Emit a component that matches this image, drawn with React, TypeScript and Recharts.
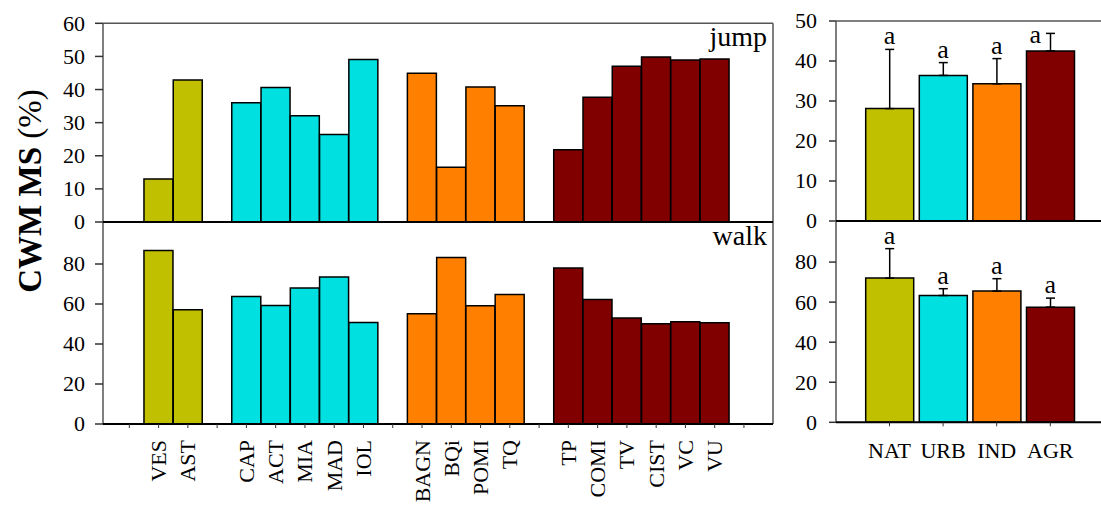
import React from 'react';
import { BarChart, ComposedChart, Bar, Line, XAxis, YAxis, Cell, ErrorBar, Label, LabelList, ReferenceLine, CartesianGrid } from 'recharts';

const FONT = '"Liberation Serif", "Times New Roman", Times, serif';
const COLORS: Record<string, string> = { NAT: '#C0C000', URB: '#00E0E0', IND: '#FF8000', AGR: '#800000' };

// Site-level CWM MS (%) by land-use group
const natSites = ['VES', 'AST'];
const natJump = [13.0, 42.9];
const natWalk = [86.7, 57.1];
const urbSites = ['CAP', 'ACT', 'MIA', 'MAD', 'IOL'];
const urbJump = [36.0, 40.6, 32.1, 26.4, 49.1];
const urbWalk = [63.8, 59.3, 68.0, 73.5, 50.8];
const indSites = ['BAGN', 'BQi', 'POMI', 'TQ'];
const indJump = [44.9, 16.5, 40.8, 35.1];
const indWalk = [55.1, 83.3, 59.1, 64.8];
const agrSites = ['TP', 'COMI', 'TV', 'CIST', 'VC', 'VU'];
const agrJump = [21.8, 37.7, 47.0, 49.8, 48.9, 49.2];
const agrWalk = [78.0, 62.3, 53.0, 50.1, 51.1, 50.6];

// Land-use means with upper error
const landUse = ['NAT', 'URB', 'IND', 'AGR'];
const jumpMean = [28.1, 36.4, 34.3, 42.5];
const jumpErr = [14.8, 3.2, 6.3, 4.4];
const walkMean = [72.0, 63.3, 65.5, 57.5];
const walkErr = [14.7, 3.4, 6.2, 4.5];
const jumpLetters = ['a', 'a', 'a', 'a'];
const walkLetters = ['a', 'a', 'a', 'a'];

const jumpTicks = [0, 10, 20, 30, 40, 50, 60];
const walkTicks = [0, 20, 40, 60, 80];
const meanJumpTicks = [0, 10, 20, 30, 40, 50];
const meanWalkTicks = [0, 20, 40, 60, 80];

const groups = [
  { key: 'NAT', sites: natSites, jump: natJump, walk: natWalk },
  { key: 'URB', sites: urbSites, jump: urbJump, walk: urbWalk },
  { key: 'IND', sites: indSites, jump: indJump, walk: indWalk },
  { key: 'AGR', sites: agrSites, jump: agrJump, walk: agrWalk },
];

type Row = { slot: number; site: string; jump: number | null; walk: number | null; group: string | null };
const siteRows: Row[] = [];
groups.forEach((g) => {
  siteRows.push({ slot: siteRows.length, site: '', jump: null, walk: null, group: null });
  g.sites.forEach((s, i) => {
    siteRows.push({ slot: siteRows.length, site: s, jump: g.jump[i], walk: g.walk[i], group: g.key });
  });
});
siteRows.push({ slot: siteRows.length, site: '', jump: null, walk: null, group: null });

const meanJumpRows = landUse.map((l, i) => ({
  name: l, mean: jumpMean[i], err: [0, jumpErr[i]], top: jumpMean[i] + jumpErr[i], letter: jumpLetters[i],
}));
const meanWalkRows = landUse.map((l, i) => ({
  name: l, mean: walkMean[i], err: [0, walkErr[i]], top: walkMean[i] + walkErr[i], letter: walkLetters[i],
}));

// layout
const W = 1101;
const H = 505;
const LX0 = 103;   // left panels plot left
const LX1 = 773;   // left panels plot right
const RX0 = 836;   // right panels plot left
const BORDER = '#555';
const fontStyle = { fontFamily: FONT };

const YTick = (p: any) => (
  <text x={p.x} y={p.y} dy={7.4} textAnchor="end" fontSize={22} fontFamily={FONT} style={fontStyle} fill="#000">
    {p.payload?.value}
  </text>
);

const LandTick = (p: any) => (
  <text x={p.x} y={p.y + 15.6} textAnchor="middle" fontSize={22} fontFamily={FONT} style={fontStyle} fill="#000">
    {p.payload?.value}
  </text>
);

const SiteTick = (p: any) => {
  const row = siteRows[p.payload?.value];
  const label = row ? row.site : '';
  if (!label) return <g />;
  return (
    <text transform={`translate(${p.x + 7.5},${p.y}) rotate(-90)`} textAnchor="end" fontSize={22} fontFamily={FONT} style={fontStyle} fill="#000">
      {label}
    </text>
  );
};

const letterRenderer = (plotTop: number) => (p: any) => {
  const x = p.x ?? p.viewBox?.x;
  const y = p.y ?? p.viewBox?.y;
  if (x == null || y == null) return <g />;
  let tx = x;
  let ty = y - 5;
  if (ty - 16 < plotTop) {
    tx = x - 15;
    ty = y + 10;
  }
  return (
    <text x={tx} y={ty} textAnchor="middle" fontSize={26} fontFamily={FONT} style={fontStyle} fill="#000">
      {p.value}
    </text>
  );
};

const panelLabel = (text: string) => (p: any) => {
  const vb = p.viewBox || {};
  const x = (vb.x ?? LX0) + (vb.width ?? LX1 - LX0) - 6;
  const y = (vb.y ?? 0) + 23;
  return (
    <text x={x} y={y} textAnchor="end" fontSize={28} fontFamily={FONT} style={fontStyle} fill="#000">
      {text}
    </text>
  );
};

const yTitle = () => (
  <text transform="translate(41,191) rotate(-90)" textAnchor="middle" fontSize={33} fontFamily={FONT} style={fontStyle} fill="#000">
    <tspan fontWeight="bold">CWM MS</tspan>
    <tspan> (%)</tspan>
  </text>
);

const layer: React.CSSProperties = { position: 'absolute', left: 0, top: 0 };

export default function App() {
  return (
    <div style={{ position: 'absolute', left: 0, top: 0, width: W, height: H, overflow: 'hidden', background: '#fff', fontFamily: FONT }}>
      {/* Left top: jump */}
      <div style={layer}>
        <BarChart width={W} height={H} data={siteRows} margin={{ top: 23.3, right: W - LX1, bottom: 283, left: 0 }} barCategoryGap={0}>
          <CartesianGrid horizontal={false} verticalPoints={[LX0, LX1]} stroke={BORDER} strokeWidth={1.5} />
          <XAxis dataKey="slot" type="category" interval={0} height={0} tick={false} tickLine={false} axisLine={false}
            padding={{ left: 11.7, right: 14.4 }} />
          <YAxis type="number" domain={[0, 60]} ticks={jumpTicks} interval={0} width={LX0} tickSize={8} tickMargin={10}
            tick={<YTick />} axisLine={false} tickLine={{ stroke: '#333', strokeWidth: 1.5 }}>
            <Label content={yTitle} />
          </YAxis>
          <Bar dataKey="jump" isAnimationActive={false} stroke="#000" strokeWidth={1.5}>
            {siteRows.map((r, i) => (
              <Cell key={i} fill={r.group ? COLORS[r.group] : 'none'} />
            ))}
          </Bar>
          <ReferenceLine y={60} stroke={BORDER} strokeWidth={1.5} label={panelLabel('jump')} />
          <ReferenceLine y={0} stroke="#000" strokeWidth={2} />
        </BarChart>
      </div>

      {/* Left bottom: walk */}
      <div style={layer}>
        <BarChart width={W} height={H} data={siteRows} margin={{ top: 222, right: W - LX1, bottom: 0, left: 0 }} barCategoryGap={0}>
          <CartesianGrid horizontal={false} verticalPoints={[LX0, LX1]} stroke={BORDER} strokeWidth={1.5} />
          <XAxis dataKey="slot" type="category" interval={0} height={81} tickSize={4} tickMargin={12}
            tick={<SiteTick />} padding={{ left: 11.7, right: 14.4 }}
            axisLine={false} tickLine={{ stroke: '#333', strokeWidth: 1 }} />
          <YAxis type="number" domain={[0, 101]} ticks={walkTicks} interval={0} width={LX0} tickSize={8} tickMargin={10}
            tick={<YTick />} axisLine={false} tickLine={{ stroke: '#333', strokeWidth: 1.5 }} />
          <Bar dataKey="walk" isAnimationActive={false} stroke="#000" strokeWidth={1.5}>
            {siteRows.map((r, i) => (
              <Cell key={i} fill={r.group ? COLORS[r.group] : 'none'} />
            ))}
          </Bar>
          <ReferenceLine y={101} stroke="#000" strokeWidth={2} label={panelLabel('walk')} />
          <ReferenceLine y={0} stroke="#000" strokeWidth={2} />
        </BarChart>
      </div>

      {/* Right top: mean jump */}
      <div style={layer}>
        <ComposedChart width={W} height={H} data={meanJumpRows} margin={{ top: 21, right: 0, bottom: 284, left: 0 }} barCategoryGap={3}>
          <CartesianGrid horizontal={false} verticalPoints={[RX0]} stroke={BORDER} strokeWidth={1.5} />
          <XAxis dataKey="name" type="category" interval={0} height={0} tick={false} tickLine={false} axisLine={false}
            padding={{ left: 26.7, right: 23.9 }} />
          <YAxis type="number" domain={[0, 50]} ticks={meanJumpTicks} interval={0} width={RX0} tickSize={7} tickMargin={12}
            tick={<YTick />} axisLine={false} tickLine={{ stroke: '#333', strokeWidth: 1.5 }} />
          <Bar dataKey="mean" isAnimationActive={false} stroke="#000" strokeWidth={1.5}>
            {meanJumpRows.map((r, i) => (
              <Cell key={i} fill={COLORS[r.name]} />
            ))}
            <ErrorBar dataKey="err" direction="y" width={4.5} stroke="#000" strokeWidth={1.5} isAnimationActive={false} />
          </Bar>
          <Line dataKey="top" stroke="none" dot={false} activeDot={false} isAnimationActive={false}>
            <LabelList dataKey="letter" content={letterRenderer(21)} />
          </Line>
          <ReferenceLine y={50} stroke={BORDER} strokeWidth={1.5} />
          <ReferenceLine y={0} stroke="#000" strokeWidth={2} />
        </ComposedChart>
      </div>

      {/* Right bottom: mean walk */}
      <div style={layer}>
        <ComposedChart width={W} height={H} data={meanWalkRows} margin={{ top: 222, right: 0, bottom: 0, left: 0 }} barCategoryGap={3}>
          <CartesianGrid horizontal={false} verticalPoints={[RX0]} stroke={BORDER} strokeWidth={1.5} />
          <XAxis dataKey="name" type="category" interval={0} height={82.7} tickSize={4} tickMargin={16}
            tick={<LandTick />} padding={{ left: 26.7, right: 23.9 }}
            axisLine={false} tickLine={{ stroke: '#333', strokeWidth: 1 }} />
          <YAxis type="number" domain={[0, 100]} ticks={meanWalkTicks} interval={0} width={RX0} tickSize={7} tickMargin={12}
            tick={<YTick />} axisLine={false} tickLine={{ stroke: '#333', strokeWidth: 1.5 }} />
          <Bar dataKey="mean" isAnimationActive={false} stroke="#000" strokeWidth={1.5}>
            {meanWalkRows.map((r, i) => (
              <Cell key={i} fill={COLORS[r.name]} />
            ))}
            <ErrorBar dataKey="err" direction="y" width={4.5} stroke="#000" strokeWidth={1.5} isAnimationActive={false} />
          </Bar>
          <Line dataKey="top" stroke="none" dot={false} activeDot={false} isAnimationActive={false}>
            <LabelList dataKey="letter" content={letterRenderer(222)} />
          </Line>
          <ReferenceLine y={0} stroke="#000" strokeWidth={2} />
        </ComposedChart>
      </div>
    </div>
  );
}
